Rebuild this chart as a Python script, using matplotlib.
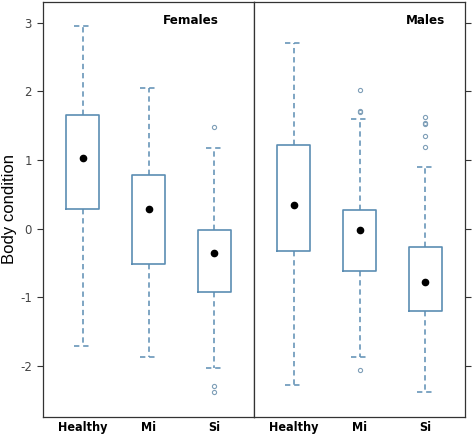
import matplotlib
matplotlib.use("Agg")
import matplotlib.pyplot as plt

groups = ["Healthy", "Mi", "Si"]
panels = ["Females", "Males"]

# five-number summaries, one list per panel
lower_whisker = {"Females": [-1.70, -1.86, -2.02], "Males": [-2.28, -1.86, -2.37]}
q1 = {"Females": [0.29, -0.52, -0.92], "Males": [-0.32, -0.62, -1.20]}
median = {"Females": [1.03, 0.29, -0.35], "Males": [0.35, -0.02, -0.77]}
q3 = {"Females": [1.66, 0.78, -0.02], "Males": [1.22, 0.28, -0.27]}
upper_whisker = {"Females": [2.95, 2.05, 1.17], "Males": [2.70, 1.60, 0.90]}
outliers = {
    "Females": [[], [], [1.48, -2.29, -2.37]],
    "Males": [[], [2.02, 1.72, 1.70, -2.06], [1.63, 1.54, 1.52, 1.35, 1.19]],
}

box_col = "#5b8db3"
narrow = ["Liberation Sans Narrow", "DejaVu Sans"]
title_x = {"Females": 0.70, "Males": 0.815}
plt.rcParams["axes.unicode_minus"] = False

fig = plt.figure(figsize=(4.72, 4.38), dpi=100)
W, H = 472, 438
ax_l = fig.add_axes([43 / W, 1 - 417 / H, (254 - 43) / W, (417 - 2) / H])
ax_r = fig.add_axes([254 / W, 1 - 417 / H, (465 - 254) / W, (417 - 2) / H], sharey=ax_l)

for ax, panel in zip([ax_l, ax_r], panels):
    stats = []
    for i, g in enumerate(groups):
        stats.append({
            "whislo": lower_whisker[panel][i], "q1": q1[panel][i], "med": median[panel][i],
            "q3": q3[panel][i], "whishi": upper_whisker[panel][i],
            "fliers": outliers[panel][i], "label": g,
        })
    ax.bxp(stats, positions=[1, 2, 3], widths=0.5, showcaps=True,
           boxprops=dict(color=box_col, linewidth=1.2),
           whiskerprops=dict(color=box_col, linewidth=1.1, linestyle=(0, (3.5, 2.5))),
           capprops=dict(color=box_col, linewidth=1.1, linestyle=(0, (3.5, 2.5))),
           medianprops=dict(linewidth=0),
           flierprops=dict(marker="o", markersize=3, markerfacecolor="none",
                           markeredgecolor="#7f9fb8", markeredgewidth=0.8))
    ax.plot([1, 2, 3], median[panel], "o", color="black", markersize=4.5, zorder=5)
    ax.text(title_x[panel], 0.955, panel, transform=ax.transAxes, ha="center", va="center",
            fontsize=9.5, fontweight="bold", color="black", family=narrow,
            fontstretch="condensed")
    ax.set_xlim(0.4, 3.6)
    ax.set_ylim(-2.74, 3.30)
    ax.set_xticks([1, 2, 3])
    ax.set_xticklabels(groups, fontsize=9, fontweight="bold", family=narrow,
                       fontstretch="condensed")
    ax.tick_params(axis="x", length=0, pad=3)
    for s in ax.spines.values():
        s.set_color("#333333")
        s.set_linewidth(0.9)

ax_l.set_yticks([-2, -1, 0, 1, 2, 3])
ax_l.tick_params(axis="y", direction="out", length=4, colors="#333333", pad=4)
for lab in ax_l.get_yticklabels():
    lab.set_fontsize(8.5)
    lab.set_color("#444444")
ax_r.tick_params(axis="y", left=False, labelleft=False, right=True, direction="out",
                 length=4, colors="#333333")
ax_l.set_ylabel("Body condition", fontsize=12, family=["Liberation Sans", "DejaVu Sans"])
ax_l.yaxis.set_label_coords(-0.125, 0.5)

fig.savefig("out.png", dpi=100)
